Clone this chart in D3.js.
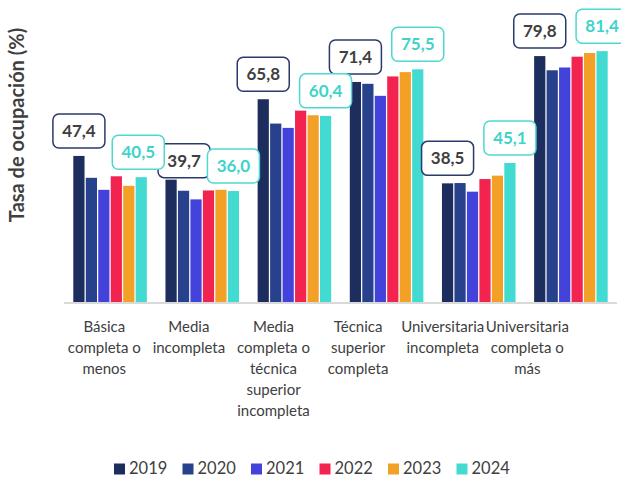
<!DOCTYPE html>
<meta charset="utf-8">
<title>Tasa de ocupación</title>
<style>
    body { margin: 0; background: #fff; }
    text { font-family: Lato, "Open Sans", sans-serif; fill: #404040; }
</style>
<body>
<div id="chart"></div>
<script src="https://d3js.org/d3.v7.min.js"></script>
<script>
    var width = 621;
    var height = 477;

    // categories, one line of the label per entry
    var categories = ["Básica completa o menos", "Media incompleta",
        "Media completa o técnica superior incompleta", "Técnica superior completa",
        "Universitaria incompleta", "Universitaria completa o más"];
    var categoryLines = [
        ["Básica", "completa o", "menos"],
        ["Media", "incompleta"],
        ["Media", "completa o", "técnica", "superior", "incompleta"],
        ["Técnica", "superior", "completa"],
        ["Universitaria", "incompleta"],
        ["Universitaria", "completa o", "más"]
    ];
    var years = ["2019", "2020", "2021", "2022", "2023", "2024"];
    var colors = ["#1d2d5e", "#28418c", "#4343db", "#f3234f", "#f2a126", "#42dad1"];

    var v2019 = [47.4, 39.7, 65.8, 71.4, 38.5, 79.8];
    var v2020 = [40.3, 36.1, 57.9, 70.8, 38.6, 75.2];
    var v2021 = [36.4, 33.3, 56.5, 66.9, 35.8, 76.1];
    var v2022 = [40.8, 36.2, 62.1, 73.2, 39.9, 79.6];
    var v2023 = [37.7, 36.4, 60.6, 74.6, 41.0, 80.8];
    var v2024 = [40.5, 36.0, 60.4, 75.5, 45.1, 81.4];
    var series = [v2019, v2020, v2021, v2022, v2023, v2024];

    // which years get a boxed value label, and small manual nudges (dx, dy) per group
    var labelled = [
        {year: 0, stroke: "#2b3a6b", color: "#404040", nudge: [[0,0],[13,6],[0,0],[0,0],[0,0],[0,0]]},
        {year: 5, stroke: "#4fd8cf", color: "#3fd3ca", nudge: [[-3,0],[0,0],[0,0],[0,0],[0,0],[0,0]]}
    ];

    var svg = d3.select("#chart").append("svg")
        .attr("width", width)
        .attr("height", height);

    var x0 = d3.scaleBand()
        .domain(categories)
        .range([64, 617]);

    var x1 = d3.scaleBand()
        .domain(years)
        .range([9.3, x0.bandwidth() - 9.3])
        .paddingInner(0.1);

    // the category text sits on a slightly tighter grid than the bars
    var xLabel = d3.scaleBand()
        .domain(categories)
        .range([62, 569.6]);

    var y = d3.scaleLinear()
        .domain([0, 98])
        .range([302, 0]);

    // bars
    var groups = svg.append("g").selectAll("g")
        .data(categories)
        .enter().append("g")
        .attr("transform", function(d) { return "translate(" + x0(d) + ",0)"; });

    groups.selectAll("rect")
        .data(function(d, i) { return years.map(function(yr, j) { return {year: yr, j: j, value: series[j][i]}; }); })
        .enter().append("rect")
        .attr("x", function(d) { return x1(d.year); })
        .attr("y", function(d) { return y(d.value); })
        .attr("width", x1.bandwidth())
        .attr("height", function(d) { return y(0) - y(d.value); })
        .style("fill", function(d) { return colors[d.j]; });

    // baseline
    svg.append("line")
        .attr("x1", x0.range()[0])
        .attr("x2", x0.range()[1])
        .attr("y1", y(0) + 1)
        .attr("y2", y(0) + 1)
        .style("stroke", "#d9d9d9")
        .style("stroke-width", 2);

    // boxed value labels
    var boxW = 52, boxH = 34;
    labelled.forEach(function(lab) {
        var g = svg.append("g").selectAll("g")
            .data(categories)
            .enter().append("g")
            .attr("transform", function(d, i) {
                var cx = x0(d) + x1(years[lab.year]) + x1.bandwidth() / 2 + lab.nudge[i][0];
                var top = y(series[lab.year][i]) - 8 + lab.nudge[i][1];
                return "translate(" + cx + "," + (top - boxH / 2) + ")";
            });
        g.append("rect")
            .attr("x", -boxW / 2)
            .attr("y", -boxH / 2)
            .attr("width", boxW)
            .attr("height", boxH)
            .attr("rx", 6)
            .style("fill", "#fff")
            .style("stroke", lab.stroke)
            .style("stroke-width", 1.5);
        g.append("text")
            .attr("text-anchor", "middle")
            .attr("dy", 6)
            .style("font-size", "17px")
            .style("font-weight", "bold")
            .style("fill", lab.color)
            .text(function(d, i) { return d3.format(".1f")(series[lab.year][i]).replace(".", ","); });
    });

    // category labels
    var catText = svg.append("g").selectAll("text")
        .data(categories)
        .enter().append("text")
        .attr("text-anchor", "middle")
        .attr("x", function(d) { return xLabel(d) + xLabel.bandwidth() / 2; })
        .attr("y", 332)
        .style("font-size", "15px");

    catText.selectAll("tspan")
        .data(function(d, i) { return categoryLines[i]; })
        .enter().append("tspan")
        .attr("x", function() { return d3.select(this.parentNode).attr("x"); })
        .attr("dy", function(d, i) { return i === 0 ? 0 : 21; })
        .text(function(d) { return d; });

    // y axis title
    svg.append("text")
        .attr("transform", "translate(24,125) rotate(-90)")
        .attr("text-anchor", "middle")
        .style("font-size", "20px")
        .style("font-weight", "bold")
        .text("Tasa de ocupación (%)");

    // legend
    var legend = svg.append("g").selectAll("g")
        .data(years)
        .enter().append("g")
        .attr("transform", function(d, i) { return "translate(" + (114 + i * 68.5) + ",463.5)"; });

    legend.append("rect")
        .attr("width", 11)
        .attr("height", 11)
        .style("fill", function(d, i) { return colors[i]; });

    legend.append("text")
        .attr("x", 15)
        .attr("y", 10.5)
        .style("font-size", "16.5px")
        .text(function(d) { return d; });
</script>
</body>
